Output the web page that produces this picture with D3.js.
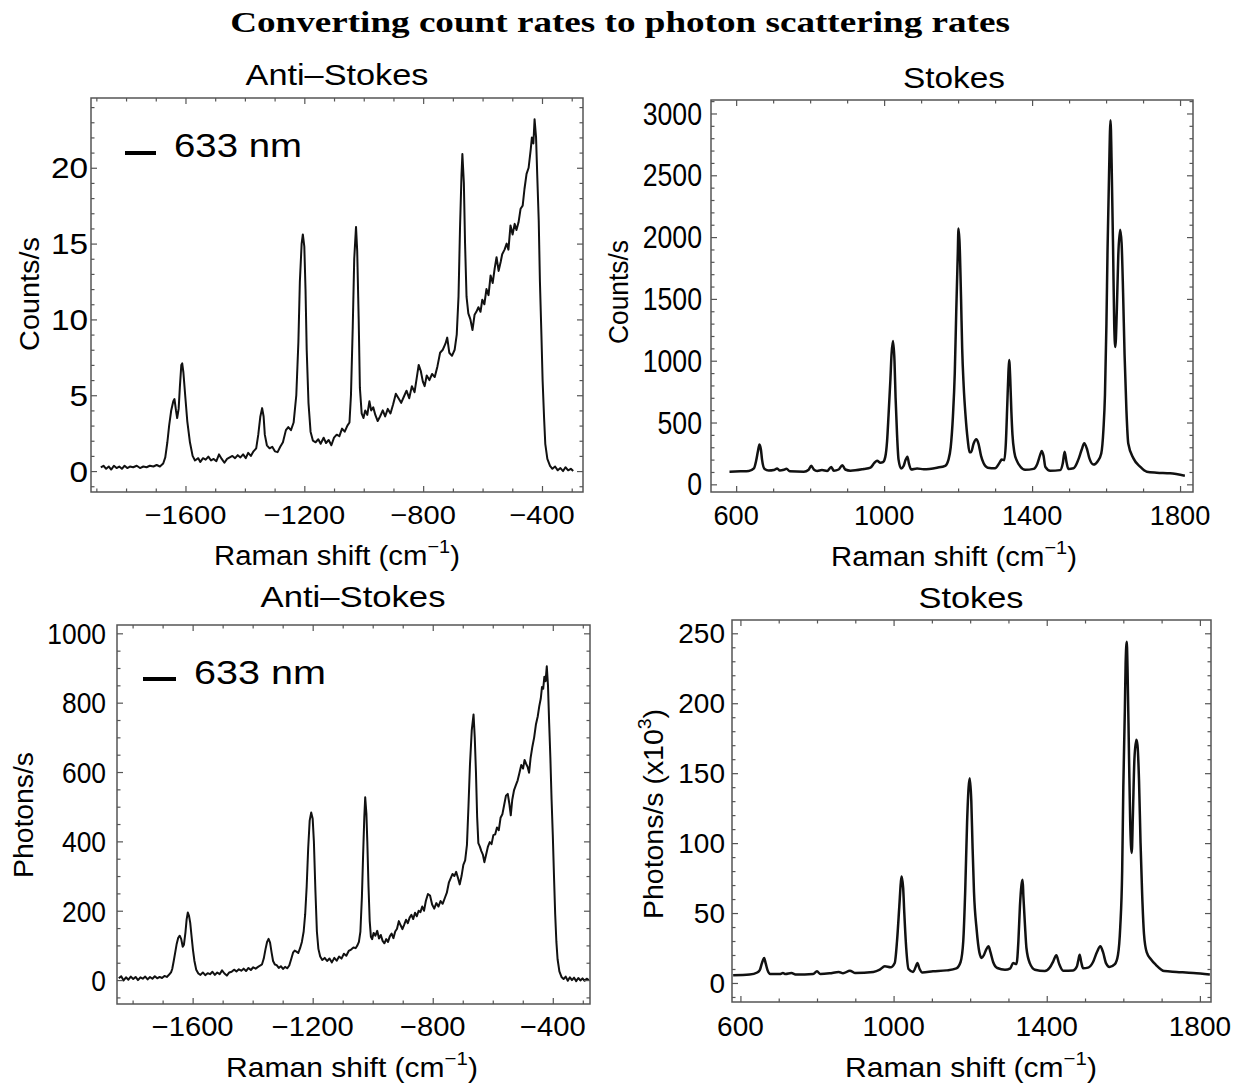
<!DOCTYPE html>
<html>
<head>
<meta charset="utf-8">
<script src="https://cdn.jsdelivr.net/npm/d3@7"></script>
<style>
  body { margin: 0; background: #fff; }
  svg { display: block; }
</style>
</head>
<body>
<div id="chart"></div>
<script>
// ---- data: [Raman shift (cm^-1), value] ----
const countsAntiStokes = [
  [-1885,0.25],[-1876,0.35],[-1867,0.15],[-1858,0.3],[-1850,0.1],[-1841,0.35],[-1832,0.2],[-1823,0.3],
  [-1814,0.15],[-1805,0.35],[-1796,0.2],[-1787,0.3],[-1776,0.25],[-1764,0.35],[-1753,0.2],[-1742,0.3],
  [-1731,0.25],[-1720,0.35],[-1708,0.3],[-1697,0.4],[-1686,0.3],[-1675,0.5],[-1668,0.9],[-1661,1.9],
  [-1655,3.0],[-1648,4.0],[-1641,4.6],[-1637,4.75],[-1632,4.0],[-1628,3.5],[-1623,4.1],[-1619,5.5],
  [-1614,7.0],[-1611,7.1],[-1607,6.5],[-1601,5.0],[-1594,3.3],[-1585,1.9],[-1576,1.0],[-1568,0.7],
  [-1557,0.85],[-1550,0.6],[-1541,0.85],[-1532,0.75],[-1523,0.95],[-1514,0.7],[-1505,0.8],[-1496,0.65],
  [-1487,1.1],[-1478,0.8],[-1469,0.55],[-1460,0.8],[-1451,0.9],[-1442,1.0],[-1433,0.85],[-1424,1.05],
  [-1415,0.9],[-1406,1.1],[-1397,0.85],[-1389,1.2],[-1380,1.0],[-1371,1.3],[-1362,1.5],[-1355,2.4],
  [-1348,3.6],[-1342,4.15],[-1337,3.6],[-1333,2.4],[-1326,1.7],[-1317,1.5],[-1308,1.6],[-1299,1.3],
  [-1290,1.25],[-1281,1.6],[-1272,1.9],[-1262,2.7],[-1254,2.9],[-1245,2.7],[-1236,3.2],[-1227,5.0],
  [-1220,8.5],[-1215,12.5],[-1209,15.0],[-1205,15.6],[-1200,14.8],[-1196,12.0],[-1192,8.0],[-1186,4.5],
  [-1179,2.6],[-1171,2.0],[-1162,1.9],[-1153,2.1],[-1145,1.8],[-1135,2.2],[-1127,1.85],[-1118,2.05],
  [-1109,1.7],[-1100,2.2],[-1091,2.4],[-1082,2.3],[-1073,2.8],[-1064,2.6],[-1055,3.0],[-1048,3.2],
  [-1043,5.0],[-1037,9.5],[-1032,14.0],[-1026,16.1],[-1022,14.5],[-1017,10.0],[-1013,5.5],[-1007,3.8],
  [-1001,3.5],[-995,4.0],[-988,3.7],[-981,4.6],[-975,4.0],[-968,4.2],[-961,3.7],[-953,3.3],
  [-945,3.6],[-936,4.0],[-928,3.6],[-919,4.1],[-910,3.8],[-901,4.4],[-892,5.1],[-883,4.8],
  [-874,4.5],[-865,4.9],[-856,5.3],[-847,4.8],[-838,5.6],[-829,5.2],[-822,6.1],[-815,7.0],
  [-808,6.6],[-801,5.9],[-795,5.6],[-788,6.3],[-779,6.0],[-770,6.4],[-761,6.2],[-752,6.9],
  [-743,7.8],[-734,8.0],[-725,8.4],[-719,8.8],[-712,7.8],[-703,7.6],[-694,8.0],[-687,9.0],
  [-681,11.5],[-676,16.0],[-671,19.5],[-668,20.9],[-663,19.0],[-659,15.0],[-654,11.5],[-648,10.4],
  [-641,10.0],[-634,9.3],[-627,10.3],[-621,10.5],[-614,10.8],[-607,10.5],[-601,11.3],[-594,11.0],
  [-587,12.0],[-580,11.6],[-573,12.9],[-566,12.4],[-559,13.4],[-553,14.1],[-546,13.2],[-539,13.8],
  [-534,14.3],[-526,14.6],[-519,15.0],[-513,14.6],[-506,16.2],[-499,15.6],[-492,16.3],[-486,15.9],
  [-479,16.4],[-472,17.3],[-465,17.5],[-459,18.6],[-452,19.6],[-445,20.0],[-438,21.2],[-434,22.0],
  [-429,21.6],[-425,23.2],[-420,22.0],[-416,19.5],[-411,16.5],[-407,12.5],[-402,9.0],[-398,6.0],
  [-393,3.5],[-389,1.8],[-382,0.8],[-373,0.35],[-365,0.15],[-356,0.3],[-347,0.05],[-338,0.2],
  [-329,0.0],[-321,0.25],[-312,0.05],[-303,0.15],[-295,0.0]
];

const countsStokes = [
  [582,102],[612,105],[634,108],[648,129],[654,190],[659,270],[663,323],[667,280],[670,200],[677,124],
  [688,112],[702,116],[711,129],[718,112],[729,118],[736,126],[745,105],[783,102],[796,118],[803,150],
  [810,120],[819,108],[832,115],[846,108],[857,140],[864,110],[877,120],[887,155],[895,120],[909,110],
  [945,124],[963,135],[974,175],[981,191],[990,175],[997,180],[1003,220],[1008,350],[1012,561],[1017,850],
  [1020,1050],[1024,1159],[1028,1000],[1031,700],[1035,400],[1039,200],[1046,128],[1053,150],[1057,190],[1063,224],
  [1067,170],[1073,120],[1089,128],[1107,122],[1143,135],[1165,150],[1174,200],[1180,300],[1186,550],[1191,900],
  [1195,1400],[1199,1850],[1201,2070],[1204,1950],[1208,1500],[1211,1100],[1215,800],[1220,560],[1226,360],[1231,260],
  [1235,260],[1242,330],[1249,364],[1255,330],[1262,230],[1269,170],[1280,135],[1300,130],[1312,175],[1318,200],
  [1325,195],[1329,330],[1333,650],[1336,900],[1338,1005],[1341,850],[1344,588],[1347,400],[1352,260],[1359,190],
  [1368,145],[1381,118],[1404,125],[1414,165],[1422,240],[1426,270],[1431,230],[1436,140],[1449,110],[1476,115],
  [1483,170],[1488,264],[1493,180],[1498,125],[1512,130],[1525,200],[1534,280],[1541,332],[1548,290],[1555,210],
  [1566,160],[1577,185],[1587,250],[1593,450],[1597,722],[1601,1300],[1604,1900],[1608,2500],[1612,2946],[1615,2600],
  [1619,1900],[1622,1300],[1625,1110],[1629,1400],[1633,1850],[1638,2060],[1642,1950],[1646,1550],[1650,1050],[1655,600],
  [1660,330],[1674,210],[1692,143],[1710,102],[1737,94],[1773,89],[1813,70]
];

const photonsAntiStokes = [
  [-1846,5],[-1838,11],[-1830,-1],[-1822,8],[-1814,1],[-1806,10],[-1798,3],[-1790,9],[-1782,0],[-1774,8],
  [-1766,4],[-1758,10],[-1750,2],[-1742,9],[-1734,4],[-1726,11],[-1718,5],[-1710,9],[-1702,6],[-1694,12],
  [-1686,9],[-1678,16],[-1672,22],[-1668,32],[-1663,55],[-1658,80],[-1653,105],[-1648,122],[-1643,128],[-1638,118],
  [-1633,96],[-1629,102],[-1624,137],[-1620,175],[-1616,195],[-1612,185],[-1608,165],[-1604,130],[-1599,88],[-1594,55],
  [-1588,30],[-1581,19],[-1574,15],[-1566,22],[-1558,14],[-1550,20],[-1542,17],[-1534,24],[-1526,15],[-1518,22],
  [-1510,17],[-1502,28],[-1494,19],[-1486,13],[-1478,22],[-1470,24],[-1462,30],[-1454,25],[-1446,31],[-1438,27],
  [-1430,33],[-1422,26],[-1414,35],[-1406,29],[-1398,37],[-1390,33],[-1382,38],[-1375,42],[-1369,45],[-1363,62],
  [-1357,90],[-1352,110],[-1347,119],[-1342,108],[-1337,80],[-1332,55],[-1326,45],[-1320,43],[-1313,35],[-1306,40],
  [-1299,32],[-1292,38],[-1285,34],[-1278,42],[-1271,62],[-1265,80],[-1260,85],[-1254,82],[-1248,78],[-1242,92],
  [-1236,110],[-1230,140],[-1225,190],[-1220,270],[-1215,380],[-1210,460],[-1205,483],[-1200,465],[-1196,400],[-1191,260],
  [-1186,140],[-1181,90],[-1175,68],[-1168,58],[-1160,64],[-1152,55],[-1144,62],[-1136,51],[-1128,64],[-1120,56],
  [-1112,68],[-1104,62],[-1096,76],[-1088,70],[-1080,84],[-1072,88],[-1064,94],[-1057,92],[-1051,100],[-1046,110],
  [-1041,140],[-1036,240],[-1032,360],[-1028,470],[-1025,527],[-1021,480],[-1018,400],[-1014,270],[-1010,170],[-1006,125],
  [-1002,118],[-997,136],[-991,128],[-985,142],[-979,120],[-973,130],[-967,113],[-961,106],[-955,118],[-949,110],
  [-943,126],[-937,134],[-931,121],[-925,140],[-919,148],[-913,170],[-907,158],[-901,147],[-895,160],[-889,174],
  [-883,164],[-877,180],[-871,188],[-865,176],[-859,194],[-853,184],[-847,200],[-841,196],[-835,212],[-829,200],
  [-823,228],[-816,248],[-809,244],[-802,218],[-795,206],[-788,222],[-781,212],[-774,228],[-767,220],[-760,236],
  [-753,252],[-746,282],[-740,294],[-734,306],[-728,300],[-722,312],[-716,295],[-710,276],[-704,300],[-698,332],
  [-692,345],[-686,390],[-681,500],[-676,620],[-670,720],[-664,766],[-660,700],[-656,600],[-652,470],[-648,395],
  [-643,385],[-638,372],[-633,362],[-628,340],[-622,362],[-616,385],[-610,398],[-604,392],[-598,418],[-592,420],
  [-586,440],[-580,432],[-574,468],[-568,478],[-562,505],[-556,532],[-550,537],[-545,510],[-540,475],[-535,520],
  [-529,548],[-523,562],[-517,576],[-511,598],[-505,620],[-499,610],[-494,635],[-489,624],[-484,615],[-479,598],
  [-474,640],[-468,673],[-462,700],[-456,738],[-450,761],[-445,790],[-440,812],[-436,845],[-432,840],[-428,875],
  [-424,862],[-420,905],[-416,850],[-412,740],[-408,640],[-404,520],[-400,420],[-396,300],[-392,190],[-388,110],
  [-384,60],[-378,25],[-371,9],[-364,3],[-357,10],[-350,-2],[-343,8],[-336,0],[-329,7],[-322,-3],
  [-315,6],[-308,-1],[-301,5],[-294,-2],[-287,4],[-280,0]
];

// photons/s in units of 10^3
const photonsStokes = [
  [581,5.5],[624,6.0],[644,7.5],[651,9.5],[656,14],[662,17.9],[666,14],[671,9.0],[678,6.4],[703,6.4],
  [711,7.1],[718,6.4],[733,7.1],[746,6.0],[790,6.4],[800,8.3],[809,6.4],[833,6.9],[857,7.9],[868,6.9],
  [886,8.8],[899,7.1],[947,7.9],[964,9.5],[977,11.9],[992,11.2],[1003,14.3],[1009,30],[1015,55],[1019,72],
  [1021,76.2],[1025,68],[1028,50],[1033,25],[1039,10],[1051,7.9],[1057,11],[1062,14.3],[1068,10],[1075,7.5],
  [1103,8.3],[1138,9.0],[1164,10.5],[1175,15],[1182,30],[1187,65],[1192,115],[1196,140],[1199,146.4],[1203,130],
  [1206,100],[1210,65],[1217,38],[1224,22],[1230,17.9],[1236,20],[1242,24],[1248,26.2],[1253,22],[1260,15],
  [1271,10.7],[1291,9.5],[1305,10.5],[1312,14.3],[1321,13.5],[1326,30],[1330,55],[1334,70],[1337,73.8],[1339,62],
  [1343,42],[1347,25],[1356,14],[1369,9.5],[1395,8.5],[1408,11],[1417,15.5],[1425,19.8],[1432,14],[1443,8.8],
  [1469,9.0],[1479,12],[1483,17],[1486,20.2],[1490,15],[1495,10.5],[1508,11],[1521,15],[1531,22],[1540,26.2],
  [1547,22],[1555,14],[1564,11.5],[1578,13.5],[1586,20],[1592,40],[1597,80],[1600,140],[1604,195],[1606,228],
  [1609,244],[1611,225],[1615,160],[1618,115],[1622,93],[1625,120],[1629,160],[1634,173.8],[1637,170],[1641,145],
  [1645,100],[1649,65],[1654,35],[1661,22],[1672,17],[1685,13],[1707,8.5],[1739,7.9],[1783,7.1],[1826,6.0]
];

// tick values
const antiShiftTicks = [-1600, -1200, -800, -400];
const stokesShiftTicks = [600, 1000, 1400, 1800];
const countsAntiTicks = [0, 5, 10, 15, 20];
const countsStokesTicks = [0, 500, 1000, 1500, 2000, 2500, 3000];
const photonsAntiTicks = [0, 200, 400, 600, 800, 1000];
const photonsStokesTicks = [0, 50, 100, 150, 200, 250];

const mainTitle = 'Converting count rates to photon scattering rates';
const legendLabel = '633 nm';

// ---- drawing ----
const W = 1236, H = 1084;
const SANS = '"Liberation Sans", Arial, sans-serif';
const frameColor = '#555';

const svg = d3.select('#chart').append('svg')
  .attr('width', W)
  .attr('height', H)
  .style('background', '#fff');

const fmt = d => d < 0 ? '\u2212' + Math.abs(d) : String(d);

// text placed at (x,y), optionally rotated, stretched to a target width
function addText(parent, o) {
  const t = parent.append('text')
    .attr('font-family', o.family || SANS)
    .attr('font-size', o.size)
    .attr('font-weight', o.weight || 'normal')
    .attr('text-anchor', o.anchor || 'middle')
    .attr('fill', '#000');
  if (o.sup) {
    t.append('tspan').text(o.text);
    t.append('tspan').attr('font-size', o.size * 0.68).attr('dy', -o.size * 0.42).text(o.sup);
    t.append('tspan').attr('dy', o.size * 0.42).text(o.tail || '');
  } else {
    t.text(o.text);
  }
  let k = 1;
  if (o.width) k = o.width / t.node().getBBox().width;
  t.attr('transform', `translate(${o.x},${o.y}) rotate(${o.rotate || 0}) scale(${k},1)`);
  return t;
}

function tickAxis(g, axisFn, scale, values, len, transform) {
  const a = g.append('g')
    .attr('transform', transform)
    .call(axisFn(scale).tickValues(values).tickSizeInner(-len).tickSizeOuter(0).tickFormat(''));
  a.select('.domain').remove();
  a.selectAll('line').attr('stroke', frameColor).attr('stroke-width', 1.2);
  return a;
}

function drawPanel(p) {
  const g = svg.append('g').attr('class', 'panel-' + p.id);
  const x = d3.scaleLinear().domain(p.xDomain).range([p.x0, p.x1]);
  const y = d3.scaleLinear().domain(p.yDomain).range([p.y1, p.y0]);

  svg.append('clipPath').attr('id', 'clip-' + p.id)
    .append('rect')
    .attr('x', p.x0).attr('y', p.y0)
    .attr('width', p.x1 - p.x0).attr('height', p.y1 - p.y0);

  // spectrum
  g.append('path')
    .datum(p.data)
    .attr('clip-path', `url(#clip-${p.id})`)
    .attr('fill', 'none')
    .attr('stroke', '#111')
    .attr('stroke-width', p.lineWidth)
    .attr('stroke-linejoin', 'round')
    .attr('d', d3.line().x(d => x(d[0])).y(d => y(d[1])).curve(p.curve));

  // frame
  g.append('rect')
    .attr('x', p.x0).attr('y', p.y0)
    .attr('width', p.x1 - p.x0).attr('height', p.y1 - p.y0)
    .attr('fill', 'none')
    .attr('stroke', frameColor)
    .attr('stroke-width', 1.5);

  // ticks on all four sides, pointing inward
  const xMinor = d3.range(p.xMinor[0], p.xMinor[1] + 1, p.xMinor[2]).filter(v => !p.xTicks.includes(v));
  const yMinor = d3.range(p.yMinor[0], p.yMinor[1] + 1e-9, p.yMinor[2]).filter(v => !p.yTicks.includes(v));
  [[p.xTicks, 6], [xMinor, 3.5]].forEach(([vals, len]) => {
    tickAxis(g, d3.axisBottom, x, vals, len, `translate(0,${p.y1})`);
    tickAxis(g, d3.axisTop, x, vals, len, `translate(0,${p.y0})`);
  });
  [[p.yTicks, 6], [yMinor, 3.5]].forEach(([vals, len]) => {
    tickAxis(g, d3.axisLeft, y, vals, len, `translate(${p.x0},0)`);
    tickAxis(g, d3.axisRight, y, vals, len, `translate(${p.x1},0)`);
  });

  // tick labels
  g.selectAll('.xlab').data(p.xTicks).join('text')
    .attr('class', 'xlab')
    .attr('font-family', SANS)
    .attr('font-size', p.xFont)
    .attr('text-anchor', 'middle')
    .attr('transform', d => `translate(${x(d)},${p.xLabelY}) scale(${p.xSx},1)`)
    .text(fmt);

  g.selectAll('.ylab').data(p.yTicks).join('text')
    .attr('class', 'ylab')
    .attr('font-family', SANS)
    .attr('font-size', p.yFont)
    .attr('text-anchor', 'end')
    .attr('transform', d => `translate(${p.yLabelX},${y(d) + p.yFont * 0.36}) scale(${p.ySx},1)`)
    .text(fmt);

  // titles
  addText(g, { text: p.title, x: p.titleX, y: p.titleY, size: 30, width: p.titleW });
  addText(g, { text: 'Raman shift (cm', sup: '\u22121', tail: ')', x: p.xTitleX, y: p.xTitleY, size: 28, width: p.xTitleW });
  addText(g, Object.assign({ x: p.yTitleX, y: p.yTitleY, size: 28, rotate: -90, width: p.yTitleW }, p.yTitle));

  // legend
  if (p.legend) {
    const L = p.legend;
    g.append('line')
      .attr('x1', L.x1).attr('x2', L.x2).attr('y1', L.y).attr('y2', L.y)
      .attr('stroke', '#000').attr('stroke-width', 4);
    addText(g, { text: legendLabel, x: L.tx, y: L.ty, size: 33, anchor: 'start', width: L.tw });
  }
}

addText(svg, {
  text: mainTitle, x: 620, y: 32, size: 29, width: 780,
  family: '"Liberation Serif", "Times New Roman", serif', weight: 'bold'
});

const panels = [
  {
    id: 'a', data: countsAntiStokes, curve: d3.curveLinear, lineWidth: 2,
    x0: 91, x1: 583, y0: 98, y1: 492,
    xDomain: [-1918, -262], yDomain: [-1.38, 24.6],
    xTicks: antiShiftTicks, xMinor: [-1900, -300, 100],
    yTicks: countsAntiTicks, yMinor: [-1, 24, 1],
    xFont: 26, xSx: 1.12, xLabelY: 524,
    yFont: 29, ySx: 1.15, yLabelX: 88,
    title: 'Anti\u2013Stokes', titleX: 337, titleY: 85, titleW: 183,
    xTitleX: 337, xTitleY: 565, xTitleW: 246,
    yTitle: { text: 'Counts/s' }, yTitleX: 39, yTitleY: 294, yTitleW: 114,
    legend: { x1: 125, x2: 156, y: 153, tx: 174, ty: 157, tw: 128 }
  },
  {
    id: 'b', data: countsStokes, curve: d3.curveMonotoneX, lineWidth: 2.5,
    x0: 711, x1: 1193, y0: 100, y1: 492,
    xDomain: [532, 1835], yDomain: [-62, 3109],
    xTicks: stokesShiftTicks, xMinor: [600, 1800, 100],
    yTicks: countsStokesTicks, yMinor: [0, 3100, 100],
    xFont: 28, xSx: 0.97, xLabelY: 525,
    yFont: 31, ySx: 0.86, yLabelX: 702,
    title: 'Stokes', titleX: 954, titleY: 88, titleW: 102,
    xTitleX: 954, xTitleY: 566, xTitleW: 246,
    yTitle: { text: 'Counts/s' }, yTitleX: 628, yTitleY: 292, yTitleW: 104
  },
  {
    id: 'c', data: photonsAntiStokes, curve: d3.curveLinear, lineWidth: 2,
    x0: 117, x1: 590, y0: 625, y1: 1004,
    xDomain: [-1852, -276], yDomain: [-69, 1024],
    xTicks: antiShiftTicks, xMinor: [-1800, -300, 100],
    yTicks: photonsAntiTicks, yMinor: [-50, 1000, 50],
    xFont: 27, xSx: 1.08, xLabelY: 1036,
    yFont: 30, ySx: 0.88, yLabelX: 106,
    title: 'Anti\u2013Stokes', titleX: 353, titleY: 607, titleW: 185,
    xTitleX: 352, xTitleY: 1077, xTitleW: 252,
    yTitle: { text: 'Photons/s' }, yTitleX: 33, yTitleY: 815, yTitleW: 126,
    legend: { x1: 143, x2: 176, y: 679, tx: 194, ty: 684, tw: 132 }
  },
  {
    id: 'd', data: photonsStokes, curve: d3.curveMonotoneX, lineWidth: 2.5,
    x0: 732, x1: 1211, y0: 620, y1: 1002,
    xDomain: [578, 1829], yDomain: [-13.6, 259.5],
    xTicks: stokesShiftTicks, xMinor: [600, 1800, 100],
    yTicks: photonsStokesTicks, yMinor: [-10, 250, 10],
    xFont: 28, xSx: 1.0, xLabelY: 1036,
    yFont: 28, ySx: 1.0, yLabelX: 725,
    title: 'Stokes', titleX: 971, titleY: 608, titleW: 105,
    xTitleX: 971, xTitleY: 1077, xTitleW: 252,
    yTitle: { text: 'Photons/s (x10', sup: '3', tail: ')' }, yTitleX: 663, yTitleY: 814, yTitleW: 210
  }
];

panels.forEach(drawPanel);
</script>
</body>
</html>
